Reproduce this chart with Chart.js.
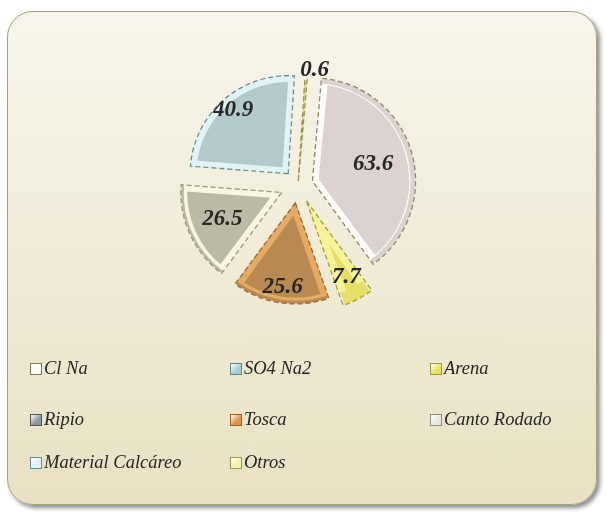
<!DOCTYPE html>
<html>
<head>
<meta charset="utf-8">
<script src="https://cdn.jsdelivr.net/npm/chart.js@4.4.1/dist/chart.umd.min.js"></script>
<style>
  html, body { margin:0; padding:0; background:#ffffff; }
  body { width:606px; height:514px; position:relative; overflow:hidden; }
  #panel {
    position:absolute; left:7px; top:11px; width:590px; height:494px;
    border-radius:26px; border:1.5px solid #a7a27a; box-sizing:border-box;
    background:linear-gradient(to bottom, #f7f5eb 0%, #f1edd9 45%, #e8e1c3 100%);
    box-shadow:3px 3px 4px rgba(0,0,0,0.45);
  }
  #wrap { position:absolute; left:0; top:0; width:606px; height:514px; }
  .leg { position:absolute; font-family:'Liberation Serif', serif; font-style:italic;
         font-size:18.5px; color:#262626; white-space:nowrap; line-height:20px; }
  .leg .box { display:inline-block; width:10px; height:10px; border:1.5px solid #777; margin-right:2px;
              vertical-align:-1px; box-sizing:content-box; }
</style>
</head>
<body>
<div id="panel"></div>
<div id="wrap"><canvas id="c" width="606" height="514"></canvas></div>
<div id="legend"></div>
<script>
// ---- data ----
const categories = ['Cl Na', 'SO4 Na2', 'Arena', 'Ripio', 'Tosca', 'Canto Rodado', 'Material Calcáreo', 'Otros'];
const values = [63.6, 0, 7.7, 0, 25.6, 26.5, 40.9, 0.6];

// ---- styles ----
const fillColors   = ['#dcd3d0', '#9fcdd4', '#e6de68', '#8a9896', '#b88a52', '#bcb9a4', '#b3cacd', '#c6bf78'];
const bevelColors  = ['#fdfcfa', '#d8f0f4', '#f7f39a', '#b8c4c2', '#e6aa62', '#f8f6e2', '#e2f3f5', '#e0da9a'];
const outlineColors= ['#8b886a', '#5f8f96', '#a59d3a', '#5a6260', '#94683a', '#9a9878', '#6f8f95', '#9a9250'];
const offsets      = [60, 60, 72, 72, 72, 72, 60, 16];
const labelDist    = [63, 70, 86, 70, 85, 65, 84, 111];
const labelShift   = [0, 0, 0, 0, 0, 0, 0, 8];
const legendBox    = ['#ffffff', '#9fcfd6', '#e8e060', '#8a9a98', '#e0954a', '#e8e8e2', '#dcf0f6', '#f4f0a8'];
const legendBorder = ['#7d7a58', '#5a8a90', '#a09a30', '#4f5856', '#a06020', '#8a8a80', '#6a8a95', '#a09a50'];

const outlinePlugin = {
  id: 'outlineLabels',
  afterDatasetsDraw(chart) {
    const ctx = chart.ctx;
    const meta = chart.getDatasetMeta(0);
    meta.data.forEach((el, i) => {
      if (!values[i]) return;
      const off = (el.options.offset || 0) / 4;
      const circ = el.endAngle - el.startAngle;
      const mid = (el.startAngle + el.endAngle) / 2;
      const fix = 1 - Math.sin(Math.min(Math.PI, circ));
      const rOff = off * fix;
      const cx = el.x + Math.cos(mid) * off;
      const cy = el.y + Math.sin(mid) * off;
      ctx.save();
      ctx.beginPath();
      ctx.moveTo(cx, cy);
      ctx.arc(cx, cy, el.outerRadius + rOff, el.startAngle, el.endAngle);
      ctx.closePath();
      ctx.setLineDash([5, 3]);
      ctx.lineWidth = 1.3;
      ctx.strokeStyle = outlineColors[i];
      ctx.stroke();
      ctx.restore();
    });
    meta.data.forEach((el, i) => {
      if (!values[i]) return;
      const off = (el.options.offset || 0) / 4;
      const mid = (el.startAngle + el.endAngle) / 2;
      const cx = el.x + Math.cos(mid) * off;
      const cy = el.y + Math.sin(mid) * off;
      const d = labelDist[i];
      const lx = cx + Math.cos(mid) * d + labelShift[i];
      const ly = cy + Math.sin(mid) * d;
      ctx.save();
      ctx.font = 'italic bold 23px "Liberation Serif", serif';
      ctx.fillStyle = '#262626';
      ctx.textAlign = 'center';
      ctx.textBaseline = 'middle';
      ctx.fillText(String(values[i]), lx, ly);
      ctx.restore();
    });
  }
};

new Chart(document.getElementById('c'), {
  type: 'pie',
  data: {
    labels: categories,
    datasets: [{
      data: values,
      backgroundColor: fillColors,
      borderColor: bevelColors,
      borderWidth: 6,
      borderAlign: 'inner',
      offset: offsets
    }]
  },
  options: {
    responsive: false,
    animation: false,
    rotation: 5,
    radius: 98,
    layout: { padding: { left: 0, right: 10, top: 0, bottom: 144 } },
    plugins: { legend: { display: false }, tooltip: { enabled: false } }
  },
  plugins: [outlinePlugin]
});

// legend (3 columns)
const legend = document.getElementById('legend');
const colX = [30, 230, 430];
const rowY = [358, 409, 452];
categories.forEach((name, i) => {
  const d = document.createElement('div');
  d.className = 'leg';
  d.style.left = colX[i % 3] + 'px';
  d.style.top = rowY[Math.floor(i / 3)] + 'px';
  const b = document.createElement('span');
  b.className = 'box';
  b.style.background = 'linear-gradient(135deg, #ffffff 0%, ' + legendBox[i] + ' 60%)';
  b.style.borderColor = legendBorder[i];
  d.appendChild(b);
  d.appendChild(document.createTextNode(name));
  legend.appendChild(d);
});
</script>
</body>
</html>
